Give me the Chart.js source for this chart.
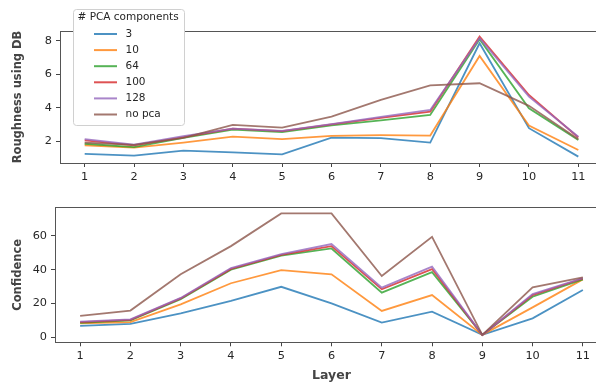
<!DOCTYPE html>
<html>
<head>
<meta charset="utf-8">
<script src="https://cdn.jsdelivr.net/npm/chart.js@4/dist/chart.umd.min.js"></script>
<style>
    html, body { margin: 0; padding: 0; background: #fff; overflow: hidden; width: 596px; height: 385px; }
    canvas { position: absolute; left: 0; }
    #topChart { top: 0; }
    #bottomChart { top: 190px; }
</style>
</head>
<body>
<canvas id="topChart" width="610" height="190"></canvas>
<canvas id="bottomChart" width="615" height="195"></canvas>
<script>
const layers = ['1', '2', '3', '4', '5', '6', '7', '8', '9', '10', '11'];
const seriesLabels = ['3', '10', '64', '100', '128', 'no pca'];

// Roughness using DB
const rough3 = [1.24, 1.14, 1.44, 1.34, 1.22, 2.22, 2.18, 1.92, 7.85, 2.78, 1.08];
const rough10 = [1.76, 1.62, 1.92, 2.28, 2.12, 2.32, 2.36, 2.34, 7.09, 2.93, 1.48];
const rough64 = [1.85, 1.65, 2.2, 2.7, 2.55, 2.95, 3.25, 3.57, 8.09, 3.97, 2.08];
const rough100 = [2.05, 1.75, 2.25, 2.75, 2.6, 3.0, 3.4, 3.77, 8.25, 4.76, 2.22];
const rough128 = [2.12, 1.8, 2.3, 2.75, 2.62, 3.02, 3.45, 3.87, 8.15, 4.66, 2.27];
const roughNoPca = [1.92, 1.78, 2.2, 2.97, 2.81, 3.47, 4.47, 5.34, 5.46, 4.11, 2.12];

// Confidence
const conf3 = [6.7, 7.9, 14.2, 21.5, 29.9, 20.1, 8.7, 15.2, 1.4, 11.2, 28];
const conf10 = [8.3, 8.9, 19.5, 32, 39.8, 37.3, 15.6, 25, 1.4, 17.7, 34.3];
const conf64 = [8.5, 10, 22.5, 40, 48.3, 52.6, 26.4, 38.6, 1.4, 24, 34.3];
const conf100 = [9, 10.3, 23, 40.5, 48.8, 54, 28.4, 40.4, 1.4, 25, 34.8];
const conf128 = [9.3, 10.6, 23.3, 41, 49.3, 55.2, 29.4, 41.8, 1.4, 25.6, 35];
const confNoPca = [12.6, 15.8, 37.3, 54, 73.4, 73.4, 36.3, 59.5, 1.4, 29.6, 35.5];

const roughTicks = [2, 4, 6, 8];
const confTicks = [0, 20, 40, 60];

const colors = [
    'rgba(31, 119, 180, 0.8)',   // blue
    'rgba(255, 127, 14, 0.8)',   // orange
    'rgba(44, 160, 44, 0.8)',    // green
    'rgba(214, 39, 40, 0.8)',    // red
    'rgba(148, 103, 189, 0.8)',  // purple
    'rgba(140, 86, 75, 0.8)'     // brown
];

const FONT = 'DejaVu Sans';
const TEXT = '#262626';
const AXIS = '#555';

// box around the plot area (matplotlib spines)
const spines = {
    id: 'spines',
    afterDatasetsDraw(chart) {
        const { ctx, chartArea: a } = chart;
        ctx.save();
        ctx.strokeStyle = AXIS;
        ctx.lineWidth = 1;
        ctx.strokeRect(Math.round(a.left) + 0.5, Math.round(a.top) + 0.5,
            Math.round(a.right - a.left), Math.round(a.bottom - a.top));
        ctx.restore();
    }
};

// legend box that hangs over the top of the upper plot
const pcaLegend = {
    id: 'pcaLegend',
    afterDraw(chart) {
        const ctx = chart.ctx;
        ctx.save();
        ctx.beginPath();
        ctx.roundRect(73.5, 9.5, 111, 116, 3);
        ctx.fillStyle = '#fff';
        ctx.fill();
        ctx.strokeStyle = '#d0d0d0';
        ctx.lineWidth = 1;
        ctx.stroke();

        ctx.font = '10.5px "' + FONT + '"';
        ctx.fillStyle = TEXT;
        ctx.textBaseline = 'middle';
        ctx.fillText('# PCA components', 77.5, 17.5);

        chart.data.datasets.forEach((ds, i) => {
            const y = 34 + i * 16.1;
            ctx.beginPath();
            ctx.moveTo(94, y);
            ctx.lineTo(117, y);
            ctx.strokeStyle = ds.borderColor;
            ctx.lineWidth = 2;
            ctx.stroke();
            ctx.fillStyle = TEXT;
            ctx.fillText(ds.label, 125.5, y);
        });
        ctx.restore();
    }
};

function createLineChart({
    canvasId,
    series = [],
    yMin,
    yMax,
    yTicks = [],
    yTitle = '',
    xTitle = '',
    yWidth = 60,
    xHeight = 27,
    padTop = 0,
    plugins = []
}) {
    const ctx = document.getElementById(canvasId).getContext('2d');

    const datasets = series.map((values, i) => ({
        label: seriesLabels[i],
        data: values,
        borderColor: colors[i],
        backgroundColor: colors[i],
        borderWidth: 1.8,
        pointRadius: 0,
        tension: 0,
        order: series.length - i
    }));

    return new Chart(ctx, {
        type: 'line',
        data: { labels: layers, datasets: datasets },
        options: {
            responsive: false,
            animation: false,
            layout: { padding: { top: padTop, right: 7, left: 0, bottom: 0 } },
            plugins: { legend: { display: false }, tooltip: { enabled: false } },
            scales: {
                x: {
                    type: 'category',
                    offset: true,
                    grid: { drawOnChartArea: false, offset: false, tickLength: 4, color: '#444' },
                    border: { display: false },
                    ticks: { font: { family: FONT, size: 11.3 }, color: TEXT, padding: 3, maxRotation: 0 },
                    title: {
                        display: !!xTitle,
                        text: xTitle,
                        color: '#444',
                        font: { family: FONT, size: 12.5, weight: 'bold' },
                        padding: { top: 0, bottom: 1.5 }
                    },
                    afterFit: s => { s.height = xHeight; }
                },
                y: {
                    min: yMin,
                    max: yMax,
                    afterBuildTicks: s => { s.ticks = yTicks.map(v => ({ value: v })); },
                    grid: { drawOnChartArea: false, tickLength: 4, color: '#444' },
                    border: { display: false },
                    ticks: { font: { family: FONT, size: 11.3 }, color: TEXT, padding: 4 },
                    title: {
                        display: true,
                        text: yTitle,
                        color: '#444',
                        font: { family: FONT, size: 11.5, weight: 'bold' },
                        padding: { top: 11, bottom: 0 }
                    },
                    afterFit: s => { s.width = yWidth; }
                }
            }
        },
        plugins: [spines].concat(plugins)
    });
}

createLineChart({
    canvasId: 'topChart',
    series: [rough3, rough10, rough64, rough100, rough128, roughNoPca],
    yMin: 0.7,
    yMax: 8.58,
    yTicks: roughTicks,
    yTitle: 'Roughness using DB',
    yWidth: 60,
    xHeight: 27,
    padTop: 31,
    plugins: [pcaLegend]
});

createLineChart({
    canvasId: 'bottomChart',
    series: [conf3, conf10, conf64, conf100, conf128, confNoPca],
    yMin: -3,
    yMax: 77,
    yTicks: confTicks,
    yTitle: 'Confidence',
    xTitle: 'Layer',
    yWidth: 55,
    xHeight: 42.7,
    padTop: 17.3
});
</script>
</body>
</html>
